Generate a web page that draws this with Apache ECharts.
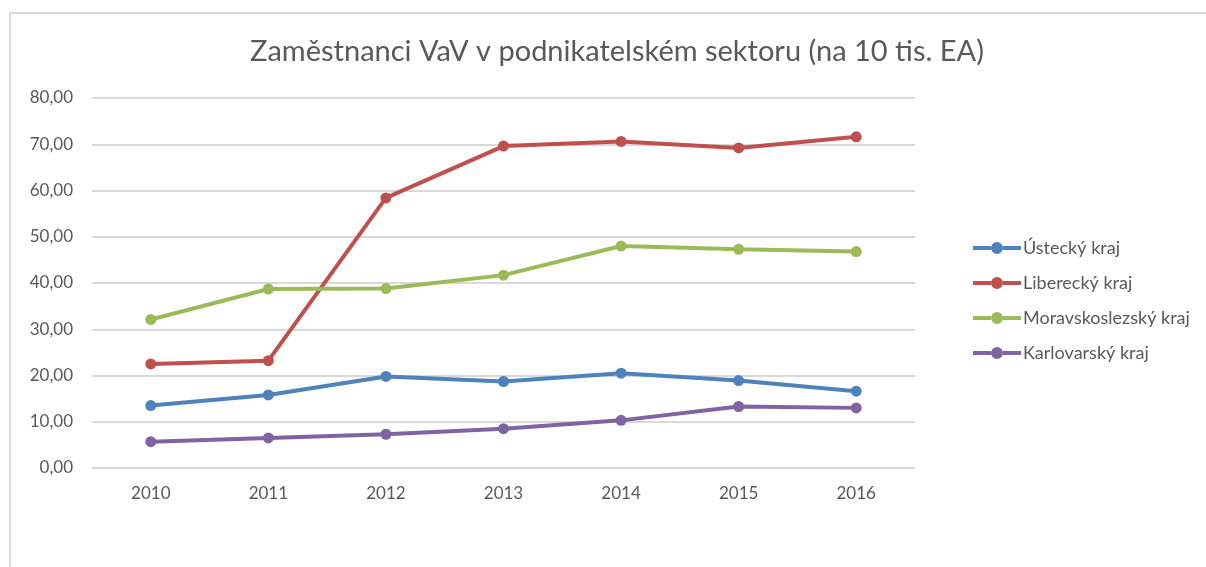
<!DOCTYPE html>
<html>
<head>
<meta charset="utf-8">
<script src="https://cdn.jsdelivr.net/npm/echarts@6/dist/echarts.min.js"></script>
<style>
  html, body { margin: 0; padding: 0; background: #fff; }
  .frame {
    position: absolute;
    left: 9px;
    top: 12px;
    width: 1197px;
    height: 555px;
    border-top: 2px solid #d9d9d9;
    border-left: 2px solid #d9d9d9;
    box-sizing: border-box;
  }
  #chart { position: absolute; left: 0; top: 0; width: 1206px; height: 567px; }
</style>
</head>
<body>
<div class="frame"></div>
<div id="chart"></div>
<script>
// roky
const years = ['2010', '2011', '2012', '2013', '2014', '2015', '2016']

// hodnoty podle krajů
const ustecky = [13.5, 15.8, 19.8, 18.7, 20.5, 18.9, 16.6]
const liberecky = [22.5, 23.2, 58.4, 69.6, 70.6, 69.2, 71.6]
const moravskoslezsky = [32.1, 38.7, 38.8, 41.7, 48.0, 47.3, 46.8]
const karlovarsky = [5.7, 6.5, 7.3, 8.5, 10.3, 13.3, 13.0]

const seriesNames = ['Ústecký kraj', 'Liberecký kraj', 'Moravskoslezský kraj', 'Karlovarský kraj']
const colors = ['#4f81bd', '#c0504d', '#9bbb59', '#8064a2']
const seriesData = [ustecky, liberecky, moravskoslezsky, karlovarsky]

const font = 'Lato, "Open Sans", sans-serif'

// ikona legendy: silná čára s kolečkem uprostřed
const legendIcon = 'path://M0,5 L18,5 L18,9 L0,9 Z M30,5 L48,5 L48,9 L30,9 Z ' +
  'M18,7 A6,6 0 1,0 30,7 A6,6 0 1,0 18,7 Z'

const chart = echarts.init(document.getElementById('chart'), null, { renderer: 'canvas' })

const option = {
  animation: false,
  textStyle: { fontFamily: font },
  title: {
    text: 'Zaměstnanci VaV v podnikatelském sektoru (na 10 tis. EA)',
    left: 612,
    textAlign: 'center',
    top: 32,
    textStyle: {
      fontFamily: font,
      fontSize: 29,
      fontWeight: 'normal',
      color: '#595959'
    }
  },
  legend: {
    orient: 'vertical',
    left: 968,
    top: 234,
    itemWidth: 48,
    itemHeight: 12,
    itemGap: 17,
    icon: legendIcon,
    data: seriesNames,
    textStyle: {
      fontFamily: font,
      fontSize: 18,
      color: '#595959',
      padding: [0, 0, 0, -3]
    }
  },
  grid: {
    left: 92,
    right: 291,
    top: 98,
    bottom: 99
  },
  xAxis: {
    type: 'category',
    data: years,
    boundaryGap: true,
    axisLine: { show: false },
    axisTick: { show: false },
    axisLabel: {
      fontFamily: font,
      fontSize: 17,
      color: '#595959',
      margin: 17
    }
  },
  yAxis: {
    type: 'value',
    min: 0,
    max: 80,
    interval: 10,
    axisLine: { show: false },
    axisTick: { show: false },
    splitLine: { lineStyle: { color: '#d9d9d9', width: 2 } },
    axisLabel: {
      fontFamily: font,
      fontSize: 17,
      color: '#595959',
      margin: 19,
      formatter: function(val) {
        return val.toFixed(2).replace('.', ',')
      }
    }
  },
  series: seriesData.map(function(data, i) {
    return {
      name: seriesNames[i],
      type: 'line',
      data: data,
      symbol: 'circle',
      symbolSize: 11,
      color: colors[i],
      itemStyle: { color: colors[i] },
      lineStyle: { color: colors[i], width: 4, cap: 'round' }
    }
  })
}

chart.setOption(option)
</script>
</body>
</html>
